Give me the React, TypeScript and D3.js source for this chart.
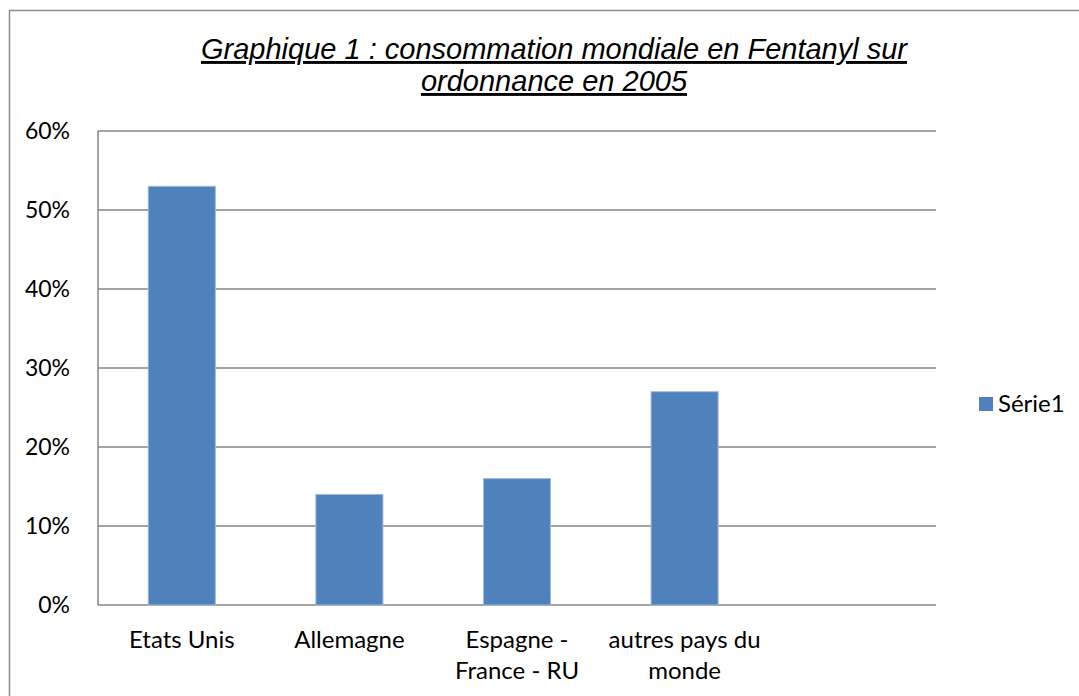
import React from "react";
import * as d3 from "d3";

const categories: string[][] = [
  ["Etats Unis"],
  ["Allemagne"],
  ["Espagne -", "France - RU"],
  ["autres pays du", "monde"],
  [""],
];
const values: (number | null)[] = [0.53, 0.14, 0.16, 0.27, null];
const yTicks: number[] = [0, 0.1, 0.2, 0.3, 0.4, 0.5, 0.6];
const titleLines: string[] = [
  "Graphique 1 : consommation mondiale en Fentanyl sur",
  "ordonnance en 2005",
];
const seriesName = "Série1";

const W = 1079;
const H = 696;
const plot = { left: 98, right: 936, top: 131, bottom: 605 };
const labelFont = "Lato, 'Open Sans', sans-serif";

export default function App() {
  const x = d3
    .scaleBand<number>()
    .domain(categories.map((_, i) => i))
    .range([plot.left, plot.right])
    .paddingInner(0.6)
    .paddingOuter(0.3);
  const y = d3.scaleLinear().domain([0, 0.6]).range([plot.bottom, plot.top]);
  const fmt = d3.format(".0%");

  return (
    <svg
      width={W}
      height={H}
      style={{ position: "absolute", left: 0, top: 0, background: "#fff" }}
    >
      <rect x={9.5} y={10.5} width={W + 20} height={H + 20} fill="#fff" stroke="#8c8c8c" strokeWidth={1.5} />
      {titleLines.map((t, i) => (
        <text
          key={i}
          x={554}
          y={59 + i * 32}
          textAnchor="middle"
          fontFamily="'Liberation Sans', Arial, sans-serif"
          fontStyle="italic"
          fontSize={29}
          textDecoration="underline"
          fill="#000"
        >
          {t}
        </text>
      ))}
      {yTicks.map((t) => (
        <g key={t}>
          <line x1={plot.left} x2={plot.right} y1={y(t)} y2={y(t)} stroke="#868686" strokeWidth={1.5} />
          <text
            x={70}
            y={y(t)}
            dy="0.35em"
            textAnchor="end"
            fontFamily={labelFont}
            fontSize={23}
            fill="#000"
          >
            {fmt(t)}
          </text>
        </g>
      ))}
      <line x1={plot.left} x2={plot.left} y1={plot.top} y2={plot.bottom} stroke="#868686" strokeWidth={1.5} />
      {values.map((v, i) =>
        v == null ? null : (
          <rect
            key={i}
            x={x(i)!}
            y={y(v)}
            width={x.bandwidth()}
            height={y(0) - y(v)}
            fill="#4F81BD"
            stroke="#9DB9DE"
            strokeWidth={1}
          />
        )
      )}
      {categories.map((lines, i) =>
        lines.map((l, j) => (
          <text
            key={`${i}-${j}`}
            x={x(i)! + x.bandwidth() / 2}
            y={648 + j * 30.5}
            textAnchor="middle"
            fontFamily={labelFont}
            fontSize={24}
            fill="#000"
          >
            {l}
          </text>
        ))
      )}
      <rect x={979} y={397} width={14} height={14} fill="#4F81BD" />
      <text x={998} y={404} dy="0.35em" fontFamily={labelFont} fontSize={24} fill="#000">
        {seriesName}
      </text>
    </svg>
  );
}
